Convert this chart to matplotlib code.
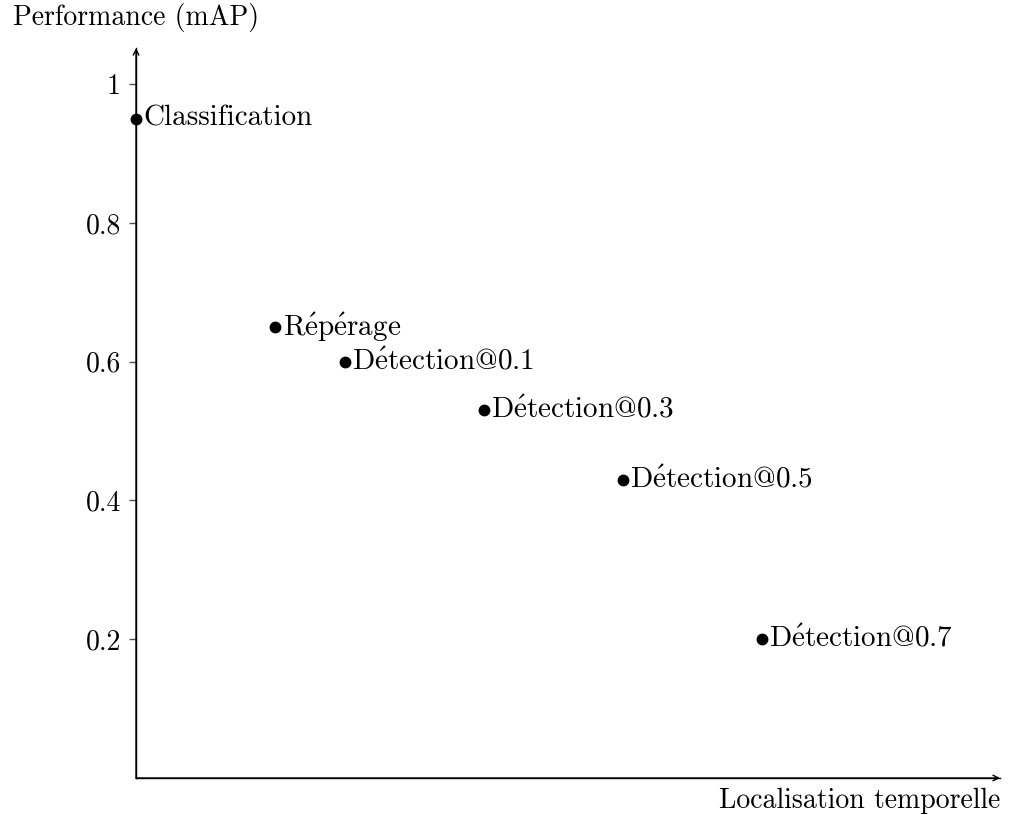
import matplotlib.pyplot as plt

# tâches et valeurs
tasks = ["Classification", r"$\mathrm{R\acute{e}p\acute{e}rage}$",
         r"$\mathrm{D\acute{e}tection@0.1}$", r"$\mathrm{D\acute{e}tection@0.3}$",
         r"$\mathrm{D\acute{e}tection@0.5}$", r"$\mathrm{D\acute{e}tection@0.7}$"]
loc = [0, 2, 3, 5, 7, 9]
perf = [0.95, 0.65, 0.60, 0.53, 0.43, 0.20]
yticks = [0.2, 0.4, 0.6, 0.8, 1]
ytick_labels = ["0.2", "0.4", "0.6", "0.8", "1"]

plt.rcParams['font.family'] = ['cmr10', 'DejaVu Serif']
plt.rcParams['mathtext.fontset'] = 'cm'
plt.rcParams['axes.formatter.use_mathtext'] = True

fig = plt.figure(figsize=(10.16, 8.15), dpi=100)
ax = fig.add_axes([0.1339, 0.0454, 0.8504, 0.8957])

ax.plot(loc, perf, 'o', color='black', markersize=7.5, clip_on=False)
for x, y, t in zip(loc, perf, tasks):
    ax.annotate(t, (x, y), xytext=(5.5, 0), textcoords='offset points',
                ha='left', va='center', fontsize=21)

ax.set_xlim(0, 12.43)
ax.set_ylim(0, 1.052)
ax.set_xticks([])
ax.set_yticks(yticks)
ax.set_yticklabels(ytick_labels, fontsize=20)
ax.tick_params(axis='y', direction='out', length=5, width=1, color='#555555', pad=6)

for s in ['top', 'right']:
    ax.spines[s].set_visible(False)
for s in ['left', 'bottom']:
    ax.spines[s].set_linewidth(1)

# flèches des axes
ax.annotate('', xy=(1, 0), xytext=(0, 0), xycoords='axes fraction',
            arrowprops=dict(arrowstyle='->', lw=1, shrinkA=0, shrinkB=0))
ax.annotate('', xy=(0, 1), xytext=(0, 0), xycoords='axes fraction',
            arrowprops=dict(arrowstyle='->', lw=1, shrinkA=0, shrinkB=0))

fig.text(136 / 1016, 1 - 18 / 815, "Performance (mAP)", ha='center', va='center', fontsize=20)
fig.text(1000 / 1016, 1 - 801 / 815, "Localisation temporelle", ha='right', va='center', fontsize=20)

plt.savefig("out.png", dpi=100)
